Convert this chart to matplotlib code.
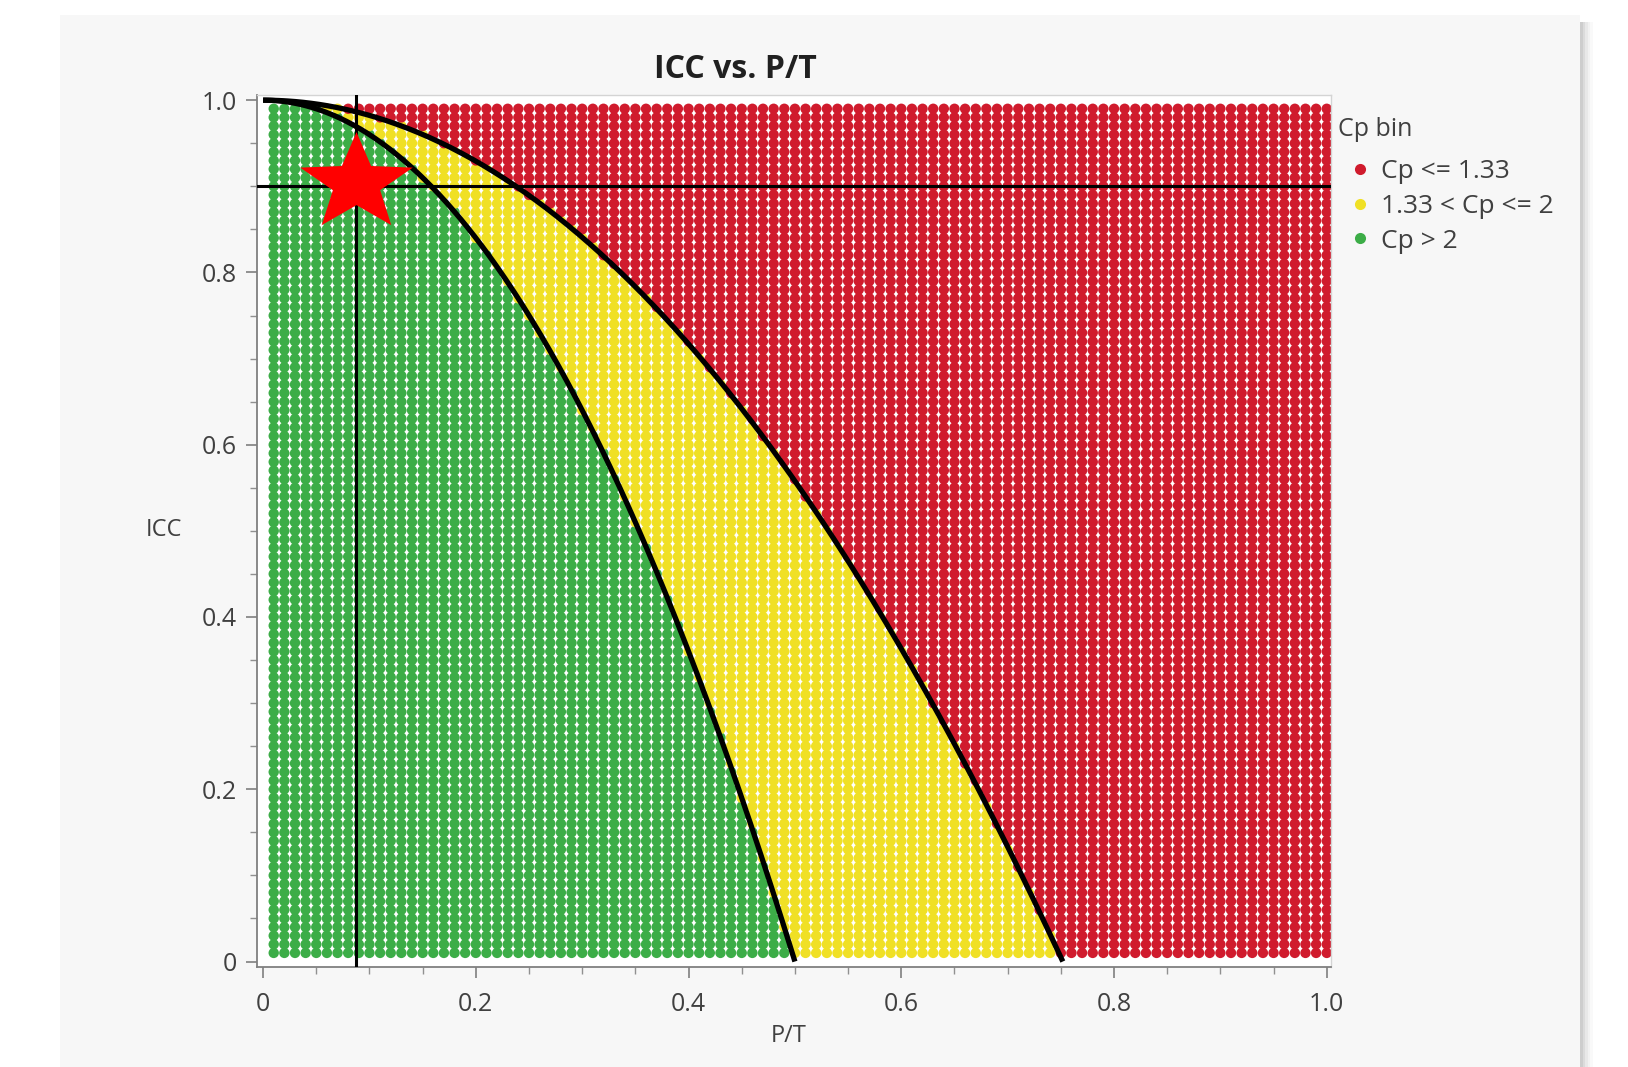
import numpy as np
import matplotlib
matplotlib.use('Agg')
import matplotlib.pyplot as plt
from matplotlib.patches import Rectangle
from matplotlib.lines import Line2D

# grid of P/T and ICC values evaluated (step 0.01)
pt_values = np.round(np.arange(1, 101) * 0.01, 2)
icc_values = np.round(np.arange(1, 100) * 0.01, 2)

# Cp bin limits and labels
cp_limits = [1.33, 2.0]
bin_labels = ['Cp <= 1.33', '1.33 < Cp <= 2', 'Cp > 2']
bin_colors = ['#d01b2d', '#f0e025', '#3cad47']

# reference point (current gauge)
ref_pt = 0.087
ref_icc = 0.90

x_ticks = [0, 0.2, 0.4, 0.6, 0.8, 1.0]
x_ticklabels = ['0', '0.2', '0.4', '0.6', '0.8', '1.0']
y_ticks = [0, 0.2, 0.4, 0.6, 0.8, 1.0]
y_ticklabels = ['0', '0.2', '0.4', '0.6', '0.8', '1.0']


def main():
    plt.rcParams['font.family'] = ['Open Sans', 'DejaVu Sans']
    W, H = 1628, 1067
    fig = plt.figure(figsize=(W / 100, H / 100), dpi=100, facecolor='white')

    # gray panel with a soft shadow on the right
    for i, a in enumerate([0.35, 0.25, 0.16, 0.09, 0.04]):
        fig.patches.append(Rectangle(((1580 + i * 2.5) / W, 0), 2.5 / W, 1 - 22 / H,
                                     transform=fig.transFigure, facecolor='#707070',
                                     alpha=a, edgecolor='none', zorder=-10))
    fig.patches.append(Rectangle((60 / W, 0), 1520 / W, 1 - 15 / H, transform=fig.transFigure,
                                 facecolor='#f7f7f7', edgecolor='none', zorder=-10))

    ax = fig.add_axes([256.7 / W, 100.3 / H, (1331 - 256.7) / W, (966.7 - 95) / H])
    ax.set_facecolor('white')

    PT, ICC = np.meshgrid(pt_values, icc_values)
    PT = PT.ravel()
    ICC = ICC.ravel()
    cp = np.sqrt(1 - ICC) / PT
    bins = np.digitize(cp, cp_limits, right=True)
    cols = np.array(bin_colors)[bins]
    ax.scatter(PT, ICC, c=cols, s=56, marker='o', linewidths=0, zorder=1)

    # boundary curves ICC = 1 - (Cp * P/T)^2
    for c in cp_limits:
        xx = np.linspace(0, 1 / c, 300)
        ax.plot(xx, 1 - (c * xx) ** 2, color='black', lw=3.8, zorder=3, solid_capstyle='butt')

    ax.axvline(ref_pt, color='black', lw=2.2, zorder=3)
    ax.axhline(ref_icc, color='black', lw=2.2, zorder=3)

    # slightly flattened star
    ang = np.pi / 2 + np.arange(10) * np.pi / 5
    rad = np.where(np.arange(10) % 2 == 0, 1.0, 0.42)
    verts = np.column_stack([rad * np.cos(ang), 0.87 * rad * np.sin(ang)])
    verts = np.vstack([verts, verts[:1]])
    ax.plot([ref_pt], [ref_icc + 0.004], marker=verts, markersize=81, color='#ff0000',
            markeredgewidth=0, linestyle='none', zorder=4)

    ax.set_xlim(-0.006, 1.004)
    ax.set_ylim(-0.006, 1.006)
    ax.set_xticks(x_ticks)
    ax.set_xticklabels(x_ticklabels)
    ax.set_yticks(y_ticks)
    ax.set_yticklabels(y_ticklabels)
    ax.set_xticks(np.arange(0, 1.001, 0.05), minor=True)
    ax.set_yticks(np.arange(0, 1.001, 0.05), minor=True)
    ax.tick_params(which='major', length=8, width=1.2, color='#808080', labelsize=18,
                   labelcolor='#404040')
    ax.tick_params(axis='x', which='major', pad=10)
    ax.tick_params(axis='y', which='major', pad=6)
    ax.tick_params(which='minor', length=5, width=1.0, color='#909090')
    for s in ['left', 'bottom']:
        ax.spines[s].set_color('#808080')
        ax.spines[s].set_linewidth(1.3)
    for s in ['top', 'right']:
        ax.spines[s].set_color('#d4d4d4')
        ax.spines[s].set_linewidth(1.0)

    fig.text(735 / W, 1 - 69 / H, 'ICC vs. P/T', ha='center', va='center', fontsize=23,
             fontweight='bold', color='#202020')
    fig.text(164 / W, 1 - 530 / H, 'ICC', ha='center', va='center', fontsize=17, color='#404040')
    fig.text(789 / W, 1 - 1036 / H, 'P/T', ha='center', va='center', fontsize=17, color='#404040')

    # legend: title as separate text, items below
    fig.text(1338 / W, 1 - 130 / H, 'Cp bin', ha='left', va='center', fontsize=18, color='#404040')
    handles = [Line2D([0], [0], marker='o', color='none', markerfacecolor=bin_colors[i],
                      markeredgewidth=0, markersize=8) for i in range(3)]
    leg = ax.legend(handles, bin_labels, loc='upper left',
                    bbox_to_anchor=(1339 / W, 1 - 159 / H), bbox_transform=fig.transFigure,
                    frameon=False, fontsize=19, handlelength=1.6, borderaxespad=0,
                    handletextpad=0.0, labelspacing=0.37, borderpad=0)
    for t in leg.get_texts():
        t.set_color('#404040')

    fig.savefig('out.png', dpi=100, facecolor='white')
    plt.close(fig)


if __name__ == '__main__':
    main()
